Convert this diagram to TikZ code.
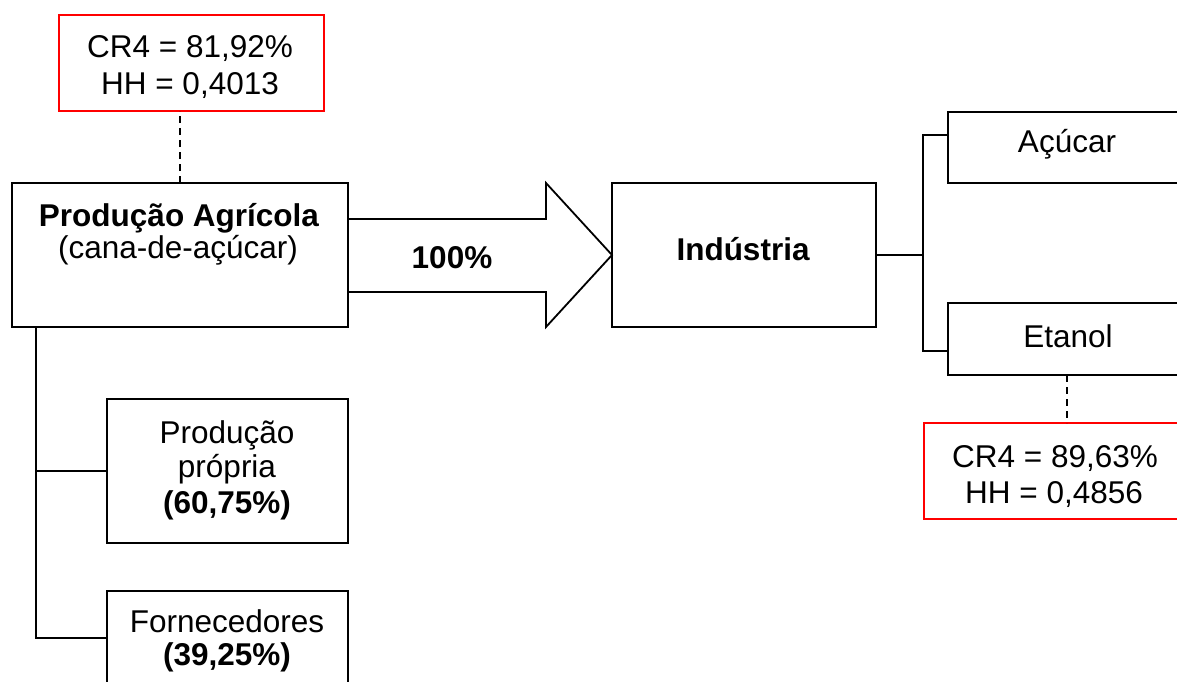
\documentclass[tikz,border=0pt]{standalone}
\usepackage{fontspec}
\setmainfont{Liberation Sans}
\begin{document}
\begin{tikzpicture}[x=1pt,y=-1pt,
  box/.style={draw, line width=1.8pt, inner sep=0pt, outer sep=0pt, fill=white},
  redbox/.style={box, draw=red},
  txt/.style={anchor=base, inner sep=0pt, font=\fontsize{31.5}{37}\selectfont},
  btxt/.style={anchor=base, inner sep=0pt, font=\fontsize{31.5}{37}\selectfont\bfseries},
  conn/.style={line width=1.8pt},
  dashconn/.style={line width=1.8pt, dash pattern=on 7pt off 5pt}]
\useasboundingbox (0,0) rectangle (1177,682);
\clip (0,0) rectangle (1177,682);

% boxes
\node[redbox, minimum width=265pt, minimum height=96pt] (red1) at (191.5,63) {};
\node[box, minimum width=336pt, minimum height=144pt] (agr) at (180,255) {};
\node[box, minimum width=264pt, minimum height=144pt] (ind) at (744,255) {};
\node[box, minimum width=238pt, minimum height=71pt] (acu) at (1067,147.5) {};
\node[box, minimum width=238pt, minimum height=72pt] (eta) at (1067,339) {};
\node[redbox, minimum width=262pt, minimum height=96pt] (red2) at (1055,471) {};
\node[box, minimum width=241pt, minimum height=144pt] (prop) at (227.5,471) {};
\node[box, minimum width=241pt, minimum height=144pt] (forn) at (227.5,663) {};

% big arrow
\coordinate (a1) at (348,219);
\coordinate (a2) at (546,219);
\coordinate (a3) at (546,183);
\coordinate (a5) at (546,327);
\coordinate (a6) at (546,292);
\coordinate (a7) at (348,292);
\draw[conn, line join=miter] (a1) -- (a2) -- (a3) -- (ind.west) -- (a5) -- (a6) -- (a7);

% dashed links
\draw[dashconn] (agr.north) -- (agr.north |- red1.south);
\draw[dashconn] (eta.south) -- (eta.south |- red2.north);

% industry branch
\coordinate (j) at (923,255);
\coordinate (jt) at (923,135);
\coordinate (jb) at (923,351);
\draw[conn] (ind.east) -- (j);
\draw[conn] (acu.west |- jt) -- (jt) -- (jb) -- (eta.west |- jb);

% agricultural branch
\coordinate (lt) at (36,327);
\coordinate (lp) at (36,471);
\coordinate (lf) at (36,638);
\draw[conn] (lt) -- (lf) -- (forn.west |- lf);
\draw[conn] (lp) -- (prop.west);

% texts
\node[txt] (r1a) at (190,58) {CR4 = 81,92\%};
\node[txt] (r1b) at (190,95) {HH = 0,4013};
\node[btxt] (ag1) at (179,226) {Produção Agrícola};
\node[txt] (ag2) at (178,258) {(cana-de-açúcar)};
\node[btxt] (pct) at (452,268) {100\%};
\node[btxt] (indt) at (743,260) {Indústria};
\node[txt] (acut) at (1067,153) {Açúcar};
\node[txt] (etat) at (1068,347) {Etanol};
\node[txt] (r2a) at (1055,467) {CR4 = 89,63\%};
\node[txt] (r2b) at (1054,503) {HH = 0,4856};
\node[txt] (p1) at (227,443) {Produção};
\node[txt] (p2) at (227,477) {própria};
\node[btxt] (p3) at (227,513) {(60,75\%)};
\node[txt] (f1) at (227,632) {Fornecedores};
\node[btxt] (f2) at (227,665) {(39,25\%)};
\end{tikzpicture}
\end{document}
